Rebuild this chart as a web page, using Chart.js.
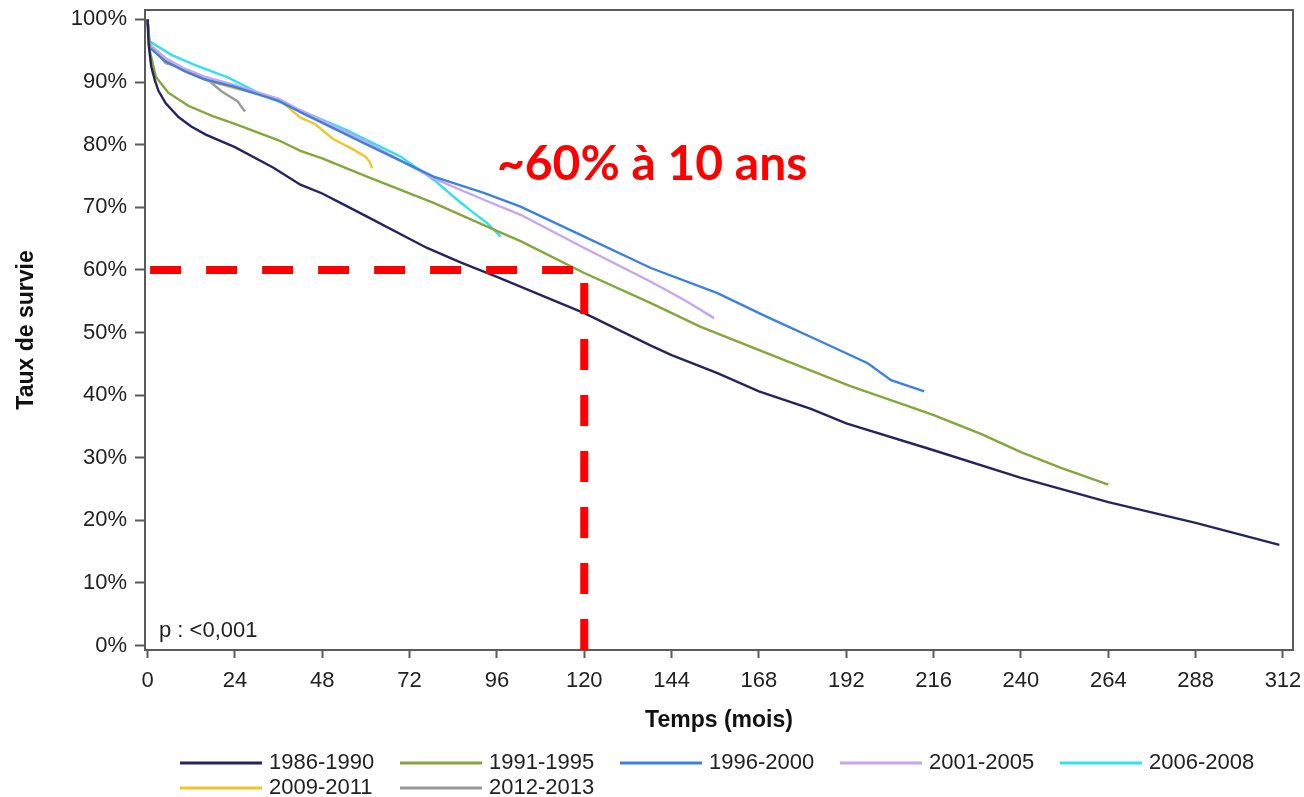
<!DOCTYPE html>
<html>
<head>
<meta charset="utf-8">
<script src="https://cdn.jsdelivr.net/npm/chart.js@4.4.0/dist/chart.umd.min.js"></script>
<style>
	html, body { margin: 0; padding: 0; background: #fff; }
</style>
</head>
<body>
<canvas id="mycanvas" width="1304" height="797"></canvas>
<script>
// courbes de survie par periode (temps en mois, taux en %)
var t1986 = [0, 0.3, 1, 2, 3, 5, 8.5, 12, 16, 24, 34.6, 42, 48, 53, 60.3, 76.8, 86, 96, 120, 138.3, 144, 156.6, 168, 182.3, 192, 216, 240, 264, 288, 311];
var s1986 = [100, 96, 92.5, 90.3, 88.6, 86.6, 84.4, 82.9, 81.6, 79.6, 76.3, 73.6, 72.2, 70.7, 68.5, 63.5, 61.2, 58.9, 53.1, 47.9, 46.4, 43.5, 40.6, 37.8, 35.5, 31.2, 26.8, 22.9, 19.6, 16.1];

var t1991 = [0, 0.6, 2.3, 5.7, 11.2, 17.7, 24, 36, 42, 48, 60.3, 78.6, 96.9, 102.5, 120, 138.3, 152, 175, 193.3, 209.8, 216, 229, 240, 251, 264];
var s1991 = [100, 95, 90.8, 88.3, 86.2, 84.6, 83.3, 80.7, 79, 77.8, 74.9, 70.7, 66, 64.6, 59.5, 54.7, 50.9, 45.6, 41.4, 38.1, 36.8, 33.8, 30.9, 28.4, 25.7];

var t1996 = [0, 0.6, 4.9, 10.3, 15.8, 24, 36, 42, 60.3, 78.6, 92.4, 102.5, 120, 138.3, 156.6, 170.2, 184.1, 197.9, 204.3, 213.4];
var s1996 = [100, 95.5, 93.3, 91.7, 90.4, 89.2, 87, 85.2, 80, 74.9, 72.3, 70.1, 65.3, 60.3, 56.3, 52.5, 48.8, 45.1, 42.4, 40.6];

var t2001 = [0, 0.6, 5, 10, 16, 24, 36, 42, 60.3, 78.6, 92.4, 102.5, 120, 138.3, 147.5, 155.7];
var s2001 = [100, 96, 93.8, 92.2, 90.8, 89.5, 87.3, 85.5, 80.4, 74.6, 71.2, 68.8, 63.5, 58.1, 55.2, 52.3];

var t2006 = [0, 0.5, 6.7, 13.1, 22.2, 31.4, 40.6, 54.4, 69.5, 78.6, 85.1, 89.6, 93.3, 97];
var s2006 = [100, 96.5, 94.3, 92.7, 90.7, 88, 85.8, 82.4, 78.1, 74.4, 71.2, 69.1, 67.5, 65.3];

var t2009 = [0, 0.5, 5, 10, 16, 24, 35.9, 42, 46, 51, 56, 59.8, 61, 61.7];
var s2009 = [100, 96, 93.5, 91.8, 90.3, 89, 87.3, 84.3, 83.3, 80.9, 79.4, 78.1, 77.3, 76.2];

var t2012 = [0, 0.5, 5, 8.4, 15.8, 20.4, 24.8, 25.5, 26.8];
var s2012 = [100, 96, 93, 92.5, 90.7, 88.5, 86.9, 86.3, 85.3];

var periodes = ['1986-1990', '1991-1995', '1996-2000', '2001-2005', '2006-2008', '2009-2011', '2012-2013'];
var couleurs = ['#25245c', '#84a63a', '#3d80df', '#c6a6ee', '#33e2e8', '#f0c630', '#9a9a9a'];
var moisTicks = [0, 24, 48, 72, 96, 120, 144, 168, 192, 216, 240, 264, 288, 312];
var tauxTicks = [0, 10, 20, 30, 40, 50, 60, 70, 80, 90, 100];

// repere a 10 ans
var repereMois = 120;
var repereTaux = 60;
var annotation = '~60% à 10 ans';
var pValeur = 'p : <0,001';

var series = [[t1986, s1986], [t1991, s1991], [t1996, s1996], [t2001, s2001], [t2006, s2006], [t2009, s2009], [t2012, s2012]];

var datasets = [];
for (var i in series) {
	var pts = [];
	for (var j in series[i][0]) {
		pts.push({x: series[i][0][j], y: series[i][1][j]});
	}
	datasets.push({
		label: periodes[i],
		data: pts,
		borderColor: couleurs[i],
		backgroundColor: couleurs[i],
		borderWidth: 2.4,
		pointRadius: 0,
		tension: 0,
		fill: false
	});
}

var police = 'Liberation Sans, Arial, sans-serif';

var cadre = {
	id: 'cadre',
	beforeDatasetsDraw: function(chart) {
		var a = chart.chartArea, ctx = chart.ctx;
		ctx.save();
		ctx.strokeStyle = '#5a5a5a';
		ctx.lineWidth = 2;
		ctx.strokeRect(a.left, a.top, a.right - a.left, a.bottom - a.top);
		ctx.restore();
	}
};

var repere = {
	id: 'repere',
	afterDatasetsDraw: function(chart) {
		var ctx = chart.ctx, x = chart.scales.x, y = chart.scales.y, a = chart.chartArea;
		ctx.save();
		ctx.strokeStyle = '#ff0000';
		ctx.lineWidth = 8;
		ctx.setLineDash([31, 25]);
		ctx.beginPath();
		ctx.moveTo(x.getPixelForValue(0.7), y.getPixelForValue(repereTaux));
		ctx.lineTo(x.getPixelForValue(repereMois), y.getPixelForValue(repereTaux));
		ctx.stroke();
		ctx.beginPath();
		ctx.moveTo(x.getPixelForValue(repereMois), y.getPixelForValue(repereTaux) + 13);
		ctx.lineTo(x.getPixelForValue(repereMois), a.bottom);
		ctx.stroke();
		ctx.setLineDash([]);

		ctx.fillStyle = '#ff0000';
		ctx.font = 'bold 48px Lato, "Open Sans", sans-serif';
		ctx.textAlign = 'left';
		ctx.textBaseline = 'alphabetic';
		ctx.fillText(annotation, x.getPixelForValue(96), y.getPixelForValue(74.4));

		ctx.fillStyle = '#222';
		ctx.font = '22px ' + police;
		ctx.textBaseline = 'middle';
		ctx.fillText(pValeur, a.left + 14, a.bottom - 19);
		ctx.restore();
	}
};

var legende = {
	id: 'legende',
	afterDraw: function(chart) {
		var ctx = chart.ctx;
		ctx.save();
		ctx.font = '22px ' + police;
		ctx.textBaseline = 'middle';
		ctx.textAlign = 'left';
		for (var k = 0; k < periodes.length; k++) {
			var col = k % 5, row = Math.floor(k / 5);
			var lx = 180 + col * 220, ly = 763 + row * 25;
			ctx.strokeStyle = couleurs[k];
			ctx.lineWidth = 3;
			ctx.beginPath();
			ctx.moveTo(lx, ly);
			ctx.lineTo(lx + 82, ly);
			ctx.stroke();
			ctx.fillStyle = '#222';
			ctx.fillText(periodes[k], lx + 89, ly);
		}
		ctx.restore();
	}
};

var ctx = document.getElementById('mycanvas');

var survie = new Chart(ctx, {
	type: 'line',
	data: { datasets: datasets },
	plugins: [cadre, repere, legende],
	options: {
		responsive: false,
		animation: false,
		layout: { padding: { top: 10, right: 11, bottom: 63, left: 0 } },
		plugins: {
			legend: { display: false },
			tooltip: { enabled: false }
		},
		scales: {
			x: {
				type: 'linear',
				min: -0.7,
				max: 314.75,
				afterBuildTicks: function(s) {
					s.ticks = moisTicks.map(function(v) { return {value: v}; });
				},
				afterFit: function(s) {
					s.height = 84;
					s.paddingLeft = 0;
					s.paddingRight = 0;
				},
				border: { display: false },
				grid: { drawOnChartArea: false, tickLength: 8, tickColor: '#5a5a5a', tickWidth: 2 },
				ticks: { font: { size: 22, family: police }, color: '#222', padding: 10, maxRotation: 0, autoSkip: false },
				title: { display: true, text: 'Temps (mois)', color: '#111', font: { size: 23, weight: 'bold', family: police }, padding: { top: 4, bottom: 0 } }
			},
			y: {
				type: 'linear',
				min: -0.7,
				max: 101.5,
				afterBuildTicks: function(s) {
					s.ticks = tauxTicks.map(function(v) { return {value: v}; });
				},
				afterFit: function(s) {
					s.width = 145;
					s.paddingTop = 0;
					s.paddingBottom = 0;
				},
				border: { display: false },
				grid: { drawOnChartArea: false, tickLength: 10, tickColor: '#5a5a5a', tickWidth: 2 },
				ticks: {
					font: { size: 22, family: police }, color: '#222', padding: 8, autoSkip: false,
					callback: function(v) { return v + '%'; }
				},
				title: { display: true, text: 'Taux de survie', color: '#111', font: { size: 23, weight: 'bold', family: police }, padding: { top: 13, bottom: 0 } }
			}
		}
	}
});
</script>
</body>
</html>
